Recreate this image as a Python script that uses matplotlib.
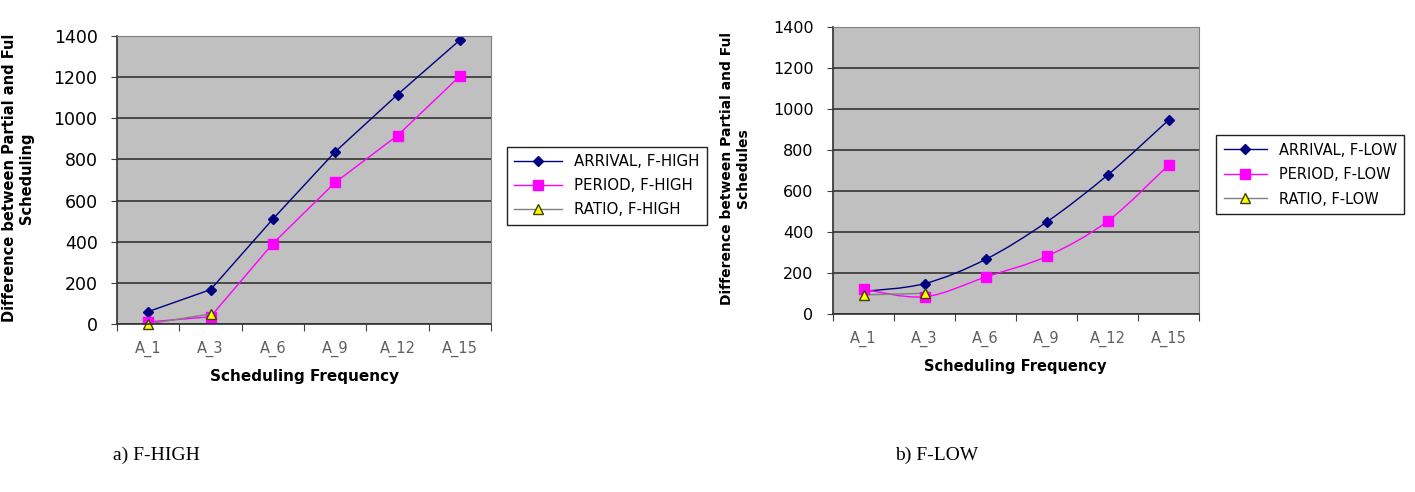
import matplotlib.pyplot as plt
from matplotlib.path import Path
from matplotlib.patches import PathPatch
from matplotlib.lines import Line2D

categories = ['A_1', 'A_3', 'A_6', 'A_9', 'A_12', 'A_15']

# a) F-HIGH
high_arrival = [60, 167, 510, 837, 1115, 1380]
high_period = [10, 35, 391, 688, 916, 1205]
high_ratio = [0, 49]

# b) F-LOW
low_arrival = [110, 148, 266, 448, 677, 945]
low_period = [120, 84, 180, 281, 452, 726]
low_ratio = [93, 101]

NAVY = '#000080'
MAG = '#FF00FF'
GREY = '#808080'


def smooth_path(xs, ys):
    # Catmull-Rom style bezier, like an Excel smoothed line
    pts = list(zip(xs, ys))
    verts = [pts[0]]
    codes = [Path.MOVETO]
    n = len(pts)
    for i in range(n - 1):
        p0 = pts[i - 1] if i > 0 else pts[i]
        p1 = pts[i]
        p2 = pts[i + 1]
        p3 = pts[i + 2] if i + 2 < n else pts[i + 1]
        c1 = (p1[0] + (p2[0] - p0[0]) / 6, p1[1] + (p2[1] - p0[1]) / 6)
        c2 = (p2[0] - (p3[0] - p1[0]) / 6, p2[1] - (p3[1] - p1[1]) / 6)
        verts += [c1, c2, p2]
        codes += [Path.CURVE4] * 3
    return Path(verts, codes)


def style_axes(ax, ytick_size):
    ax.set_facecolor('#C0C0C0')
    ax.set_xlim(0.5, len(categories) + 0.5)
    ax.set_ylim(0, 1400)
    ax.set_yticks(range(0, 1401, 200))
    ax.yaxis.grid(True, color='#282828', linewidth=1.1)
    ax.set_axisbelow(True)
    ax.set_xticks([i + 0.5 for i in range(len(categories) + 1)])
    ax.set_xticklabels([])
    ax.set_xticks(range(1, len(categories) + 1), minor=True)
    ax.set_xticklabels(categories, minor=True, fontsize=10.5, color='#606060')
    ax.tick_params(axis='x', which='major', length=5, direction='out', color='#404040')
    ax.tick_params(axis='x', which='minor', length=0, pad=12)
    ax.tick_params(axis='y', length=4, direction='out', labelsize=ytick_size,
                   color='#404040', pad=10)
    for s in ['top', 'right']:
        ax.spines[s].set_color(GREY)
    for s in ['left', 'bottom']:
        ax.spines[s].set_color('#303030')
        ax.spines[s].set_linewidth(1.2)


def legend_handles():
    return [
        Line2D([], [], color=NAVY, lw=1, marker='D', ms=5, mfc=NAVY, mec=NAVY),
        Line2D([], [], color=MAG, lw=1, marker='s', ms=7, mfc=MAG, mec=MAG),
        Line2D([], [], color=GREY, lw=1, marker='^', ms=7, mfc='#FFFF00', mec='#404000'),
    ]


fig = plt.figure(figsize=(14.15, 4.92), dpi=100)

x = list(range(1, len(categories) + 1))

# ---- left chart
ax1 = fig.add_axes([0.0827, 0.3415, 0.2643, 0.5854])
style_axes(ax1, 12.5)
ax1.plot(x, high_arrival, color=NAVY, lw=1, marker='D', ms=5, mfc=NAVY, mec=NAVY)
ax1.plot(x, high_period, color=MAG, lw=1, marker='s', ms=7, mfc=MAG, mec=MAG)
ax1.plot(x[:len(high_ratio)], high_ratio, color=GREY, lw=1, marker='^', ms=7,
         mfc='#FFFF00', mec='#404000', clip_on=False)
fig.legend(legend_handles(),
           ['ARRIVAL, F-HIGH', 'PERIOD, F-HIGH', 'RATIO, F-HIGH'],
           loc='upper left', bbox_to_anchor=(499 / 1415, 1 - 139 / 492),
           fontsize=10.8, frameon=True, fancybox=False, edgecolor='#202020',
           handlelength=3.2, labelspacing=0.6, borderpad=0.5, framealpha=1)
fig.text(18 / 1415, 1 - 178 / 492, 'Difference between Partial and Ful\nScheduling',
         rotation=90, ha='center', va='center', fontsize=10.5, fontweight='bold',
         multialignment='center', linespacing=1.2)
fig.text(305 / 1415, 1 - 377 / 492, 'Scheduling Frequency', ha='center', va='center',
         fontsize=11, fontweight='bold')
fig.text(113 / 1415, 1 - 455 / 492, 'a) F-HIGH', ha='left', va='center',
         fontsize=14, family='Liberation Serif')

# ---- right chart
ax2 = fig.add_axes([0.5887, 0.3618, 0.2587, 0.5839])
style_axes(ax2, 11.5)
ax2.add_patch(PathPatch(smooth_path(x, low_arrival), fill=False, edgecolor=NAVY, lw=1))
ax2.add_patch(PathPatch(smooth_path(x, low_period), fill=False, edgecolor=MAG, lw=1))
ax2.plot(x[:len(low_ratio)], low_ratio, color=GREY, lw=1)
ax2.plot(x, low_arrival, ls='none', marker='D', ms=5, mfc=NAVY, mec=NAVY)
ax2.plot(x, low_period, ls='none', marker='s', ms=7, mfc=MAG, mec=MAG)
ax2.plot(x[:len(low_ratio)], low_ratio, ls='none', marker='^', ms=7,
         mfc='#FFFF00', mec='#404000')
fig.legend(legend_handles(),
           ['ARRIVAL, F-LOW', 'PERIOD, F-LOW', 'RATIO, F-LOW'],
           loc='upper left', bbox_to_anchor=(1209 / 1415, 1 - 128 / 492),
           fontsize=10.5, frameon=True, fancybox=False, edgecolor='#202020',
           handlelength=3.0, labelspacing=0.65, borderpad=0.5, framealpha=1)
fig.text(735 / 1415, 1 - 168 / 492, 'Difference between Partial and Ful\nSchedules',
         rotation=90, ha='center', va='center', fontsize=10, fontweight='bold',
         multialignment='center', linespacing=1.2)
fig.text(1015 / 1415, 1 - 367 / 492, 'Scheduling Frequency', ha='center', va='center',
         fontsize=10.5, fontweight='bold')
fig.text(895 / 1415, 1 - 455 / 492, 'b) F-LOW', ha='left', va='center',
         fontsize=14, family='Liberation Serif')

fig.savefig('out.png', dpi=100)
